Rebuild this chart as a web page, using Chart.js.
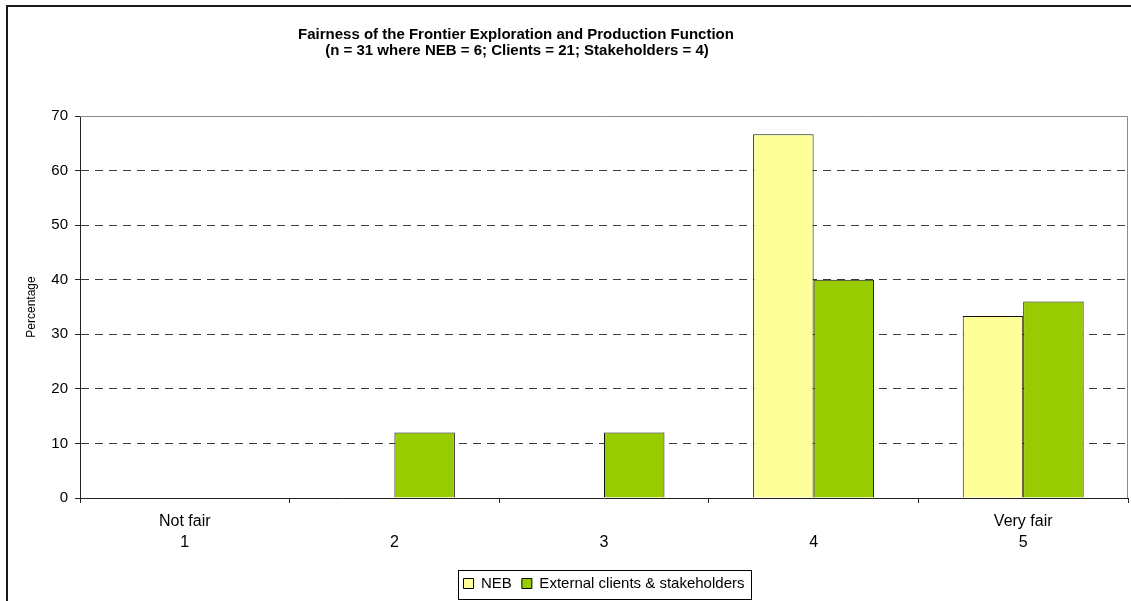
<!DOCTYPE html>
<html>
<head>
<meta charset="utf-8">
<script src="https://cdn.jsdelivr.net/npm/chart.js@4/dist/chart.umd.min.js"></script>
<style>
  html, body { margin: 0; padding: 0; background: #fff; }
  #wrap { width: 1131px; height: 601px; position: relative; }
</style>
</head>
<body>
<div id="wrap"><canvas id="c" width="1131" height="601"></canvas></div>
<script>
// Rating scale categories (1 = not fair ... 5 = very fair)
const categories = [['Not fair', '1'], ['', '2'], ['', '3'], ['', '4'], ['Very fair', '5']];
// Share of respondents (%) per rating
const nebValues = [0, 0, 0, 66.67, 33.33];
const externalValues = [0, 12, 12, 40, 36];
const seriesNames = ['NEB', 'External clients & stakeholders'];
const titleLines = [
  'Fairness of the Frontier Exploration and Production Function',
  '(n = 31 where NEB = 6; Clients = 21; Stakeholders = 4)'
];
const yTicks = { min: 0, max: 70, step: 10 };

const FONT = "'Liberation Sans', Arial, sans-serif";

// Outer frame, two-line heading, plot border and legend border
const decorations = {
  id: 'decorations',
  beforeDraw(chart) {
    const ctx = chart.ctx;
    ctx.save();
    ctx.fillStyle = '#fff';
    ctx.fillRect(0, 0, chart.width, chart.height);
    ctx.restore();
  },
  afterDraw(chart) {
    const ctx = chart.ctx;
    const a = chart.chartArea;
    ctx.save();
    // frame
    ctx.fillStyle = '#1a1a1a';
    ctx.fillRect(6, 5, 2, chart.height - 5);
    ctx.fillRect(6, 5, chart.width - 6, 2);
    // heading
    ctx.fillStyle = '#000';
    ctx.font = 'bold 15px ' + FONT;
    ctx.textAlign = 'center';
    ctx.textBaseline = 'middle';
    ctx.fillText(titleLines[0], 516, 35);
    ctx.fillText(titleLines[1], 517, 51);
    // plot border (top and right)
    ctx.strokeStyle = '#8a8a8a';
    ctx.lineWidth = 1;
    ctx.beginPath();
    ctx.moveTo(a.left, a.top + 0.5);
    ctx.lineTo(a.right - 0.5, a.top + 0.5);
    ctx.lineTo(a.right - 0.5, a.bottom);
    ctx.stroke();
    // legend border
    const boxes = chart.legend.legendHitBoxes;
    if (boxes && boxes.length) {
      const first = boxes[0], last = boxes[boxes.length - 1];
      const cy = first.top + first.height / 2;
      const l = Math.round(first.left - 6) + 0.5;
      const r = Math.round(last.left + last.width + 7) + 0.5;
      ctx.strokeStyle = '#000';
      ctx.strokeRect(l, Math.round(cy - 14) + 0.5, r - l, 29);
    }
    ctx.restore();
  }
};

new Chart(document.getElementById('c'), {
  type: 'bar',
  data: {
    labels: categories,
    datasets: [
      {
        label: seriesNames[0],
        data: nebValues,
        backgroundColor: '#FFFF99',
        borderColor: '#111',
        borderWidth: 1,
        categoryPercentage: 0.577,
        barPercentage: 1
      },
      {
        label: seriesNames[1],
        data: externalValues,
        backgroundColor: '#99CC00',
        borderColor: '#111',
        borderWidth: 1,
        categoryPercentage: 0.577,
        barPercentage: 1
      }
    ]
  },
  options: {
    responsive: false,
    animation: false,
    events: [],
    layout: { padding: { top: 116, right: 3, bottom: 0, left: 0 } },
    plugins: {
      title: { display: false },
      tooltip: { enabled: false },
      legend: {
        position: 'bottom',
        fullSize: false,
        labels: {
          color: '#000',
          font: { family: FONT, size: 15 },
          boxWidth: 10,
          boxHeight: 10,
          padding: 10,
          generateLabels(chart) {
            return chart.data.datasets.map((ds, i) => ({
              text: ds.label,
              fillStyle: ds.backgroundColor,
              strokeStyle: '#000',
              lineWidth: 1,
              hidden: false,
              datasetIndex: i,
              fontColor: '#000'
            }));
          }
        }
      }
    },
    scales: {
      x: {
        afterFit(s) { s.height = 68; },
        grid: {
          offset: true,
          drawOnChartArea: false,
          drawTicks: true,
          tickLength: 5,
          tickColor: '#222',
          tickBorderDash: []
        },
        border: { display: true, color: '#222', width: 1 },
        ticks: {
          color: '#000',
          font: { family: FONT, size: 16, lineHeight: 1.3 },
          padding: 8,
          maxRotation: 0,
          autoSkip: false
        }
      },
      y: {
        min: yTicks.min,
        max: yTicks.max,
        afterFit(s) { s.width = 80; },
        title: {
          display: true,
          text: 'Percentage',
          color: '#000',
          font: { family: FONT, size: 12 },
          padding: { top: 24, bottom: 0 }
        },
        grid: {
          color: (c) => (c.tick && (c.tick.value === yTicks.max || c.tick.value === yTicks.min)) ? 'rgba(0,0,0,0)' : '#3a3a3a',
          lineWidth: 1,
          drawTicks: true,
          tickLength: 5,
          tickColor: '#222',
          tickBorderDash: []
        },
        border: { display: true, color: '#222', width: 1, dash: [8, 6] },
        ticks: {
          stepSize: yTicks.step,
          color: '#000',
          font: { family: FONT, size: 15 },
          padding: 7
        }
      }
    }
  },
  plugins: [decorations]
});
</script>
</body>
</html>
